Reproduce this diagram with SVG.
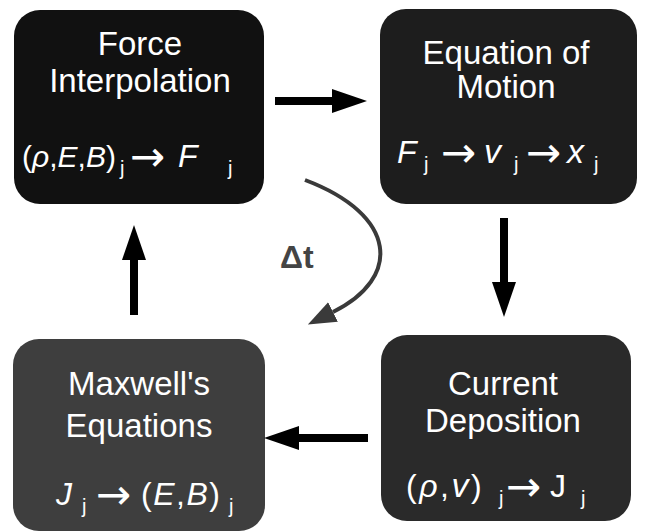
<svg xmlns="http://www.w3.org/2000/svg" width="648" height="531" viewBox="0 0 648 531">
  <defs>
    <marker id="head" markerUnits="userSpaceOnUse" markerWidth="35" markerHeight="24" viewBox="0 0 35 24" refX="0" refY="12" orient="auto">
      <path d="M0,0 L35,12 L0,24 z" fill="#000"/>
    </marker>
    <marker id="head2" markerUnits="userSpaceOnUse" markerWidth="28" markerHeight="22" viewBox="0 0 28 22" refX="0" refY="11" orient="auto">
      <path d="M0,0 L28,11 L0,22 z" fill="#3a3a3a"/>
    </marker>
    <style>
      .t { font-family: "Liberation Sans", Arial, sans-serif; font-size: 33px; fill: #fff; text-anchor: middle; }
      .f { font-family: "Liberation Sans", Arial, sans-serif; font-size: 32px; fill: #fff; }
      .i { font-style: italic; }
      .s { font-size: 20px; }
      .a { font-family: "DejaVu Sans", sans-serif; font-size: 42px; }
      .arr { stroke: #000; stroke-width: 8; fill: none; marker-end: url(#head); }
    </style>
  </defs>
  <rect width="648" height="531" fill="#fff"/>

  <g id="force-interpolation">
    <rect x="14" y="10" width="250" height="194" rx="26" fill="#111"/>
    <text class="t" x="140" y="55">Force</text>
    <text class="t" x="140" y="92">Interpolation</text>
    <text class="f" y="167"><tspan x="22" font-size="30">(<tspan class="i">ρ</tspan>,<tspan class="i">E</tspan>,<tspan class="i">B</tspan>)</tspan><tspan class="s" x="120" dy="8">j</tspan><tspan class="a" x="130" dy="-4">→</tspan><tspan class="i" x="178" dy="-4">F</tspan><tspan class="s" x="228" dy="8">j</tspan></text>
  </g>

  <g id="equation-of-motion">
    <rect x="380" y="9" width="257" height="195" rx="26" fill="#1d1d1d"/>
    <text class="t" x="506" y="64">Equation of</text>
    <text class="t" x="506" y="98">Motion</text>
    <text class="f" y="163"><tspan class="i" x="397">F</tspan><tspan class="s" x="424" dy="8">j</tspan><tspan class="a" x="441" dy="-4">→</tspan><tspan class="i" x="484" dy="-4" font-size="34">v</tspan><tspan class="s" x="514" dy="8">j</tspan><tspan class="a" x="526" dy="-4">→</tspan><tspan class="i" x="567" dy="-4" font-size="34">x</tspan><tspan class="s" x="594" dy="8">j</tspan></text>
  </g>

  <g id="current-deposition">
    <rect x="381" y="335" width="250" height="186" rx="26" fill="#2a2a2a"/>
    <text class="t" x="503" y="395">Current</text>
    <text class="t" x="503" y="432">Deposition</text>
    <text class="f" y="497"><tspan x="406" letter-spacing="2.5">(<tspan class="i">ρ</tspan>,<tspan class="i" font-size="34">v</tspan>)</tspan><tspan class="s" x="499" dy="8">j</tspan><tspan class="a" x="506" dy="-4">→</tspan><tspan x="550" dy="-4">J</tspan><tspan class="s" x="581" dy="8">j</tspan></text>
  </g>

  <g id="maxwells-equations">
    <rect x="13" y="339" width="252" height="192" rx="26" fill="#3e3e3e"/>
    <text class="t" x="139" y="395">Maxwell's</text>
    <text class="t" x="139" y="437">Equations</text>
    <text class="f" y="505"><tspan class="i" x="56">J</tspan><tspan class="s" x="82" dy="8">j</tspan><tspan class="a" x="96" dy="-4">→</tspan><tspan x="141" dy="-4" letter-spacing="1.5">(<tspan class="i">E</tspan>,<tspan class="i">B</tspan>)</tspan><tspan class="s" x="229" dy="8">j</tspan></text>
  </g>

  <g id="connectors">
    <line class="arr" x1="275" y1="101" x2="332" y2="101"/>
    <line class="arr" x1="504" y1="218" x2="504" y2="282"/>
    <line class="arr" x1="368" y1="438" x2="299" y2="438"/>
    <line class="arr" x1="134" y1="315" x2="134" y2="260"/>
    <path d="M305,180 C398,215 402,278 333,312" stroke="#3a3a3a" stroke-width="4" fill="none" marker-end="url(#head2)"/>
    <text x="280" y="268" font-family="Liberation Sans, Arial, sans-serif" font-size="32" font-weight="bold" fill="#444">Δt</text>
  </g>
</svg>
